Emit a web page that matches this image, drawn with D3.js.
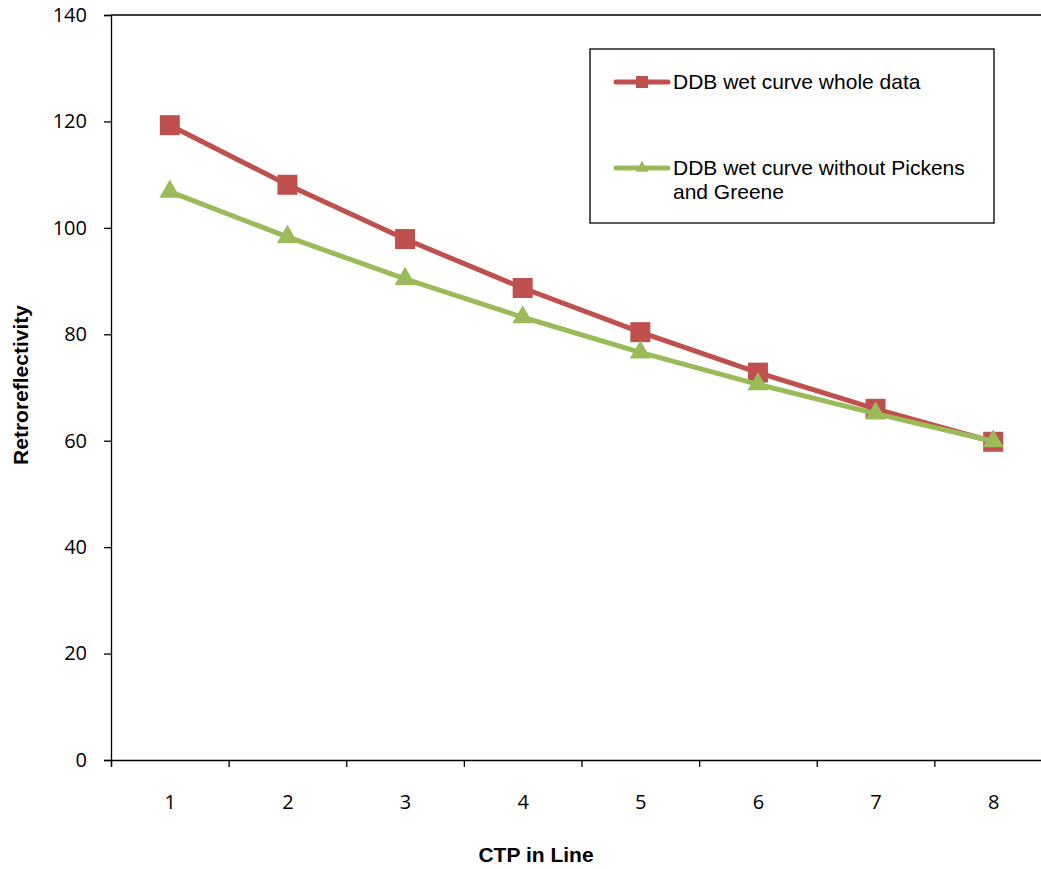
<!DOCTYPE html>
<html><head><meta charset="utf-8">
<script src="https://cdn.jsdelivr.net/npm/d3@7"></script>
<style>body{margin:0;background:#fff;} svg{display:block;}</style>
</head><body>
<svg id="c" width="1041" height="869"></svg>
<script>
const categories = [1,2,3,4,5,6,7,8];
const seriesNames = ["DDB wet curve whole data", "DDB wet curve without Pickens and Greene"];
const wholeData = [119.3, 108.1, 97.9, 88.7, 80.4, 72.8, 66.0, 59.8];
const withoutPG = [106.8, 98.3, 90.4, 83.2, 76.6, 70.6, 65.1, 59.9];
const yTicks = [0,20,40,60,80,100,120,140];

(function(){
const svg = d3.select("#c");
const pLeft = 111, pTop = 15, pBottom = 760, pRight = 1052;
const x = d3.scaleLinear().domain([0.5, 8.5]).range([pLeft, pRight]);
const y = d3.scaleLinear().domain([0, 140]).range([pBottom, pTop]);
const red = "#C0504D", green = "#9BBB59";
const tickFont = "'Open Sans', Calibri, Carlito, sans-serif";
const arial = "Arial, 'Liberation Sans', sans-serif";

// plot border top
svg.append("line").attr("x1", pLeft).attr("x2", pRight).attr("y1", pTop).attr("y2", pTop)
  .attr("stroke", "#000").attr("stroke-width", 1.3);

// y axis
const ya = svg.append("g").attr("transform", `translate(${pLeft},0)`)
  .call(d3.axisLeft(y).tickValues(yTicks).tickSize(7).tickPadding(17));
ya.select(".domain").attr("stroke-width", 1.3);
ya.selectAll(".tick line").attr("stroke-width", 1.3);
ya.selectAll("text").attr("font-family", tickFont).attr("font-size", 20).attr("fill", "#000");

// x axis ticks (boundaries)
const boundaries = d3.range(0.5, 9, 1);
const xa = svg.append("g").attr("transform", `translate(0,${pBottom})`)
  .call(d3.axisBottom(x).tickValues(boundaries).tickSize(7).tickFormat(""));
xa.select(".domain").attr("stroke-width", 1.3);
xa.selectAll(".tick line").attr("stroke-width", 1.3);
// x labels
const xl = svg.append("g").attr("transform", `translate(0,${pBottom})`)
  .call(d3.axisBottom(x).tickValues(categories).tickSize(0).tickPadding(35).tickFormat(d3.format("d")));
xl.select(".domain").remove();
xl.selectAll("text").attr("font-family", tickFont).attr("font-size", 20).attr("fill", "#000");

// axis titles
svg.append("text").attr("x", 536).attr("y", 862).attr("text-anchor", "middle")
  .attr("font-family", arial).attr("font-weight", "bold").attr("font-size", 21)
  .text("CTP in Line");
svg.append("text").attr("transform", "translate(28,385) rotate(-90)").attr("text-anchor", "middle")
  .attr("font-family", arial).attr("font-weight", "bold").attr("font-size", 21)
  .text("Retroreflectivity");

const line = d3.line().x((d,i) => x(categories[i])).y(d => y(d));

function drawSeries(data, color, marker) {
  svg.append("path").datum(data).attr("d", line).attr("fill", "none")
    .attr("stroke", color).attr("stroke-width", 5).attr("stroke-linejoin", "round");
  const g = svg.append("g");
  if (marker === "square") {
    g.selectAll("rect").data(data).join("rect")
      .attr("x", (d,i) => x(categories[i]) - 10).attr("y", d => y(d) - 10)
      .attr("width", 20).attr("height", 20).attr("fill", color);
  } else {
    const tri = d3.symbol().type(d3.symbolTriangle).size(190);
    g.selectAll("path").data(data).join("path")
      .attr("transform", (d,i) => `translate(${x(categories[i])},${y(d)})`)
      .attr("d", tri).attr("fill", color);
  }
}
drawSeries(wholeData, red, "square");
drawSeries(withoutPG, green, "triangle");

// legend
const lg = svg.append("g");
lg.append("rect").attr("x", 590).attr("y", 49).attr("width", 404).attr("height", 174)
  .attr("fill", "#fff").attr("stroke", "#000").attr("stroke-width", 1.3);
const items = [
  {name: seriesNames[0], color: red, marker: "square", y: 82},
  {name: seriesNames[1], color: green, marker: "triangle", y: 168}
];
items.forEach(it => {
  lg.append("line").attr("x1", 616).attr("x2", 668).attr("y1", it.y).attr("y2", it.y)
    .attr("stroke", it.color).attr("stroke-width", 5).attr("stroke-linecap", "round");
  if (it.marker === "square") {
    lg.append("rect").attr("x", 636).attr("y", it.y - 6).attr("width", 12).attr("height", 12).attr("fill", it.color);
  } else {
    lg.append("path").attr("transform", `translate(642,${it.y})`)
      .attr("d", d3.symbol().type(d3.symbolTriangle).size(70)).attr("fill", it.color);
  }
});
lg.append("text").attr("x", 673).attr("y", 89).attr("font-family", arial).attr("font-size", 21).text(seriesNames[0]);
const t2 = lg.append("text").attr("font-family", arial).attr("font-size", 21);
t2.append("tspan").attr("x", 673).attr("y", 175).text("DDB wet curve without Pickens");
t2.append("tspan").attr("x", 673).attr("y", 199).text("and Greene");
})();
</script>
</body></html>
